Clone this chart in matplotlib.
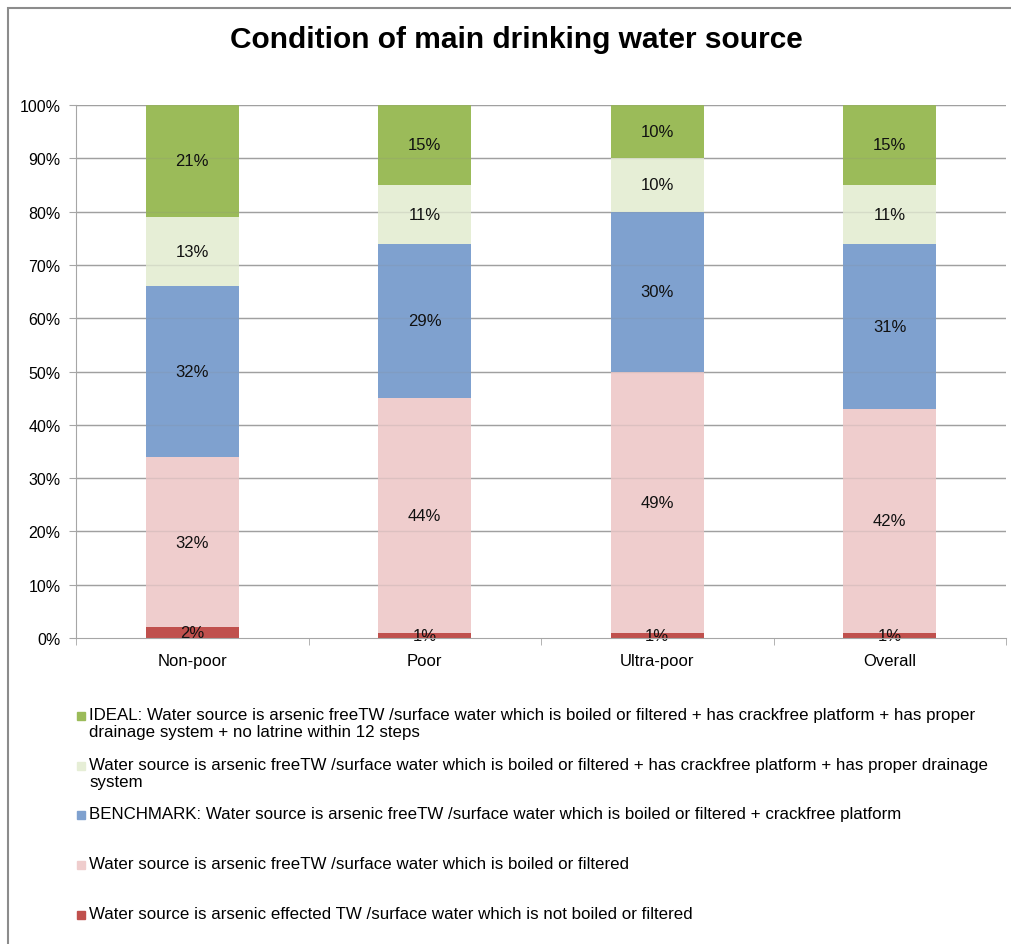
import numpy as np
import matplotlib.pyplot as plt
from matplotlib.patches import Rectangle

plt.rcParams['font.family'] = ['Liberation Sans', 'DejaVu Sans']

groups = ["Non-poor", "Poor", "Ultra-poor", "Overall"]

# stacked from bottom to top
affected = [2, 1, 1, 1]
free_boiled = [32, 44, 49, 42]
benchmark = [32, 29, 30, 31]
drainage = [13, 11, 10, 11]
ideal = [21, 15, 10, 15]

series = [affected, free_boiled, benchmark, drainage, ideal]
colors = ["#C0504D", "#EFCDCD", "#7FA1CF", "#E6EED6", "#9BBB59"]
legend_labels = [
    "IDEAL: Water source is arsenic freeTW /surface water which is boiled or filtered + has crackfree platform + has proper\ndrainage system + no latrine within 12 steps",
    "Water source is arsenic freeTW /surface water which is boiled or filtered + has crackfree platform + has proper drainage\nsystem",
    "BENCHMARK: Water source is arsenic freeTW /surface water which is boiled or filtered + crackfree platform",
    "Water source is arsenic freeTW /surface water which is boiled or filtered",
    "Water source is arsenic effected TW /surface water which is not boiled or filtered",
]
legend_colors = ["#9BBB59", "#E6EED6", "#7FA1CF", "#EFCDCD", "#C0504D"]

fig = plt.figure(figsize=(10.11, 9.45), dpi=100)
ax = fig.add_axes([76 / 1011, 1 - 639 / 945, 930 / 1011, 533 / 945])

x = np.arange(len(groups))
bottom = np.zeros(len(groups))
for vals, c in zip(series, colors):
    vals = np.array(vals, dtype=float)
    ax.bar(x, vals, 0.4, bottom=bottom, color=c, zorder=2)
    for xi, b, v in zip(x, bottom, vals):
        ax.text(xi, b + v / 2, f"{v:.0f}%", ha="center", va="center",
                fontsize=12, color="#111111", zorder=4)
    bottom += vals

ax.set_xlim(-0.5, len(groups) - 0.5)
ax.set_ylim(0, 100)
yt = np.arange(0, 101, 10)
ax.set_yticks(yt)
ax.set_yticklabels([f"{v}%" for v in yt], fontsize=11.5)
for v in yt[1:]:
    ax.axhline(v, color="#A6A6A6", lw=1, zorder=1)
    ax.axhline(v, color="#888888", lw=1, alpha=0.18, zorder=3)

ax.set_xticks(x)
ax.set_xticklabels(groups, fontsize=12)
ax.tick_params(axis="x", length=0, pad=11)
ax.set_xticks(np.arange(-0.5, len(groups)), minor=True)
ax.tick_params(axis="x", which="minor", length=5, color="#A6A6A6")
ax.tick_params(axis="y", length=5, color="#A6A6A6", pad=6)

for s in ["top", "right"]:
    ax.spines[s].set_visible(False)
for s in ["left", "bottom"]:
    ax.spines[s].set_color("#A6A6A6")
    ax.spines[s].set_zorder(5)

fig.text(516 / 1011, 1 - 40 / 945, "Condition of main drinking water source",
         ha="center", va="center", fontsize=21.5, fontweight="bold")

# legend drawn as swatches + text lines
legend_y = [717, 767, 816, 866, 916]
for lab, c, yy in zip(legend_labels, legend_colors, legend_y):
    fig.patches.append(Rectangle((77 / 1011, 1 - (yy + 4) / 945), 8 / 1011, 8 / 945,
                                 transform=fig.transFigure, color=c))
    fig.text(89 / 1011, 1 - (yy - 9) / 945, lab, ha="left", va="top",
             fontsize=12.2, linespacing=1.2)

# chart frame
fig.patches.append(Rectangle((8 / 1011, -0.05), 1.1, 1 - 9 / 945 + 0.05,
                             transform=fig.transFigure, fill=False,
                             edgecolor="#8C8C8C", lw=1.5))

fig.savefig("out.png", dpi=100)
